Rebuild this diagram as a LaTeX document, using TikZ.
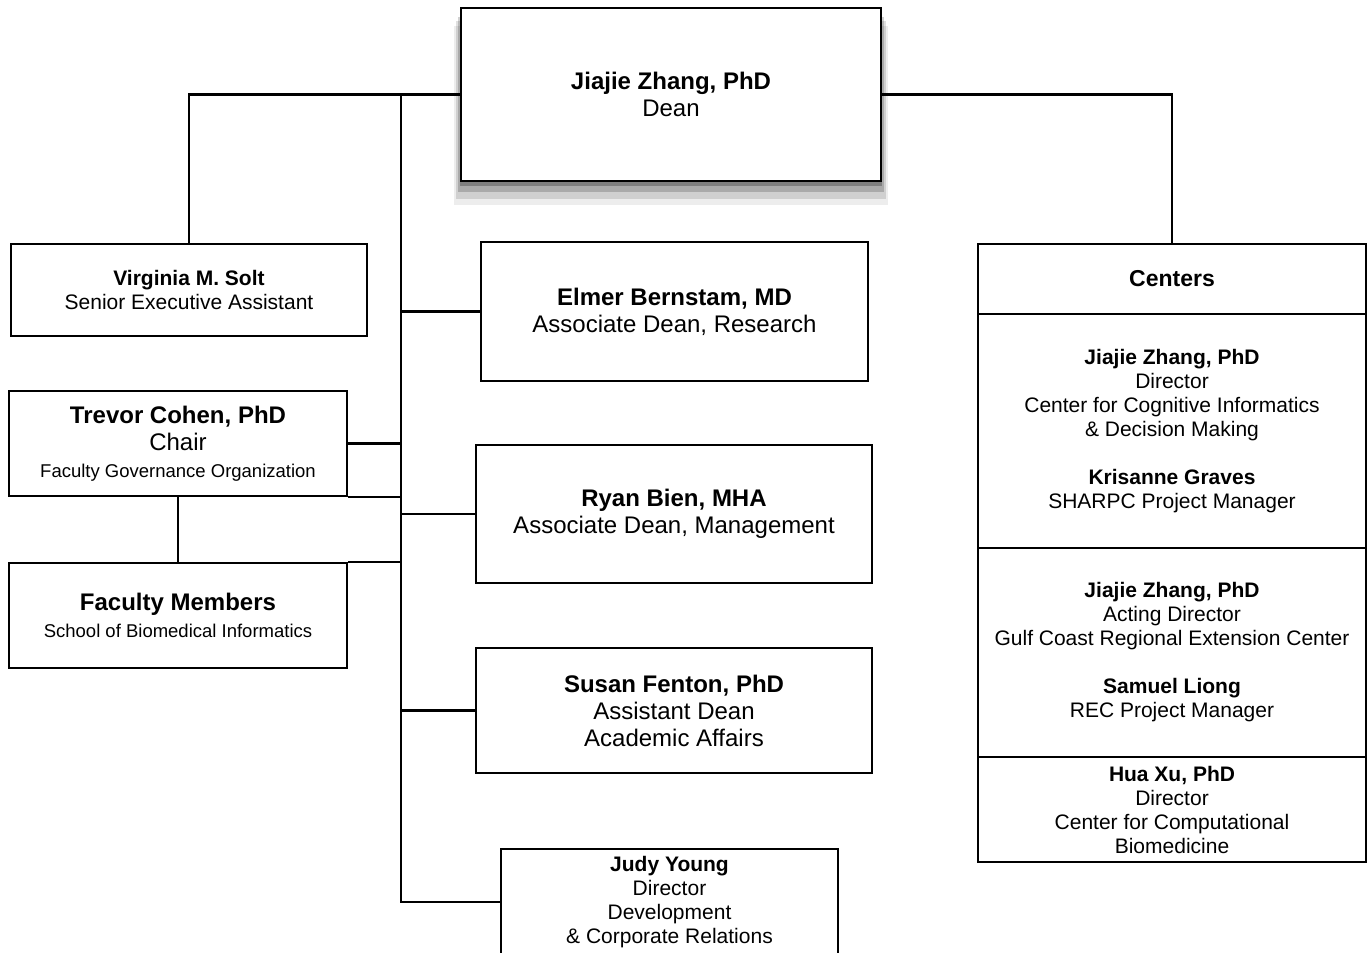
\documentclass[tikz,border=0pt]{standalone}
\usepackage{fontspec}
\setmainfont{Liberation Sans}
\usetikzlibrary{positioning,shadows}
\newcommand{\bigfnt}{\fontsize{12}{13.5}\selectfont}
\newcommand{\midfnt}{\fontsize{10.5}{12}\selectfont}
\newcommand{\smallfnt}{\fontsize{9.25}{12}\selectfont}
\tikzset{
    orgbox/.style={draw, line width=1.2pt, align=center, inner sep=0pt, fill=white},
    link/.style={line width=1.2pt},
    deanshadow/.style={
        drop shadow={fill=black, opacity=0.07, shadow xshift=0pt, shadow yshift=-10pt, shadow scale=1.035},
        drop shadow={fill=black, opacity=0.12, shadow xshift=0pt, shadow yshift=-7.5pt, shadow scale=1.025},
        drop shadow={fill=black, opacity=0.18, shadow xshift=0pt, shadow yshift=-5pt, shadow scale=1.015},
        drop shadow={fill=black, opacity=0.25, shadow xshift=0pt, shadow yshift=-2.5pt, shadow scale=1.005}},
}
\begin{document}
\begin{tikzpicture}[x=0.5pt, y=-0.5pt]
    \useasboundingbox (0, 0) rectangle (1367, 953);
    \node[orgbox, deanshadow, font=\bigfnt, minimum width=210pt, minimum height=86.5pt] (dean) at (671, 94.5)
        {\textbf{Jiajie Zhang, PhD}\\Dean};
    \node[orgbox, font=\midfnt, minimum width=178pt, minimum height=46pt] (solt) at (189, 290)
        {\textbf{Virginia M. Solt}\\Senior Executive Assistant};
    \node[orgbox, font=\bigfnt, minimum width=193.5pt, minimum height=69.5pt] (bernstam) at (674.5, 311.5)
        {\textbf{Elmer Bernstam, MD}\\Associate Dean, Research};
    \node[orgbox, font=\bigfnt, minimum width=169pt, minimum height=52.5pt] (cohen) at (178, 443.5)
        {\textbf{Trevor Cohen, PhD}\\Chair\\{\smallfnt Faculty Governance Organization}};
    \node[orgbox, font=\bigfnt, minimum width=169pt, minimum height=52.5pt] (faculty) at (178, 615.5)
        {\textbf{Faculty Members}\\{\smallfnt School of Biomedical Informatics}};
    \node[orgbox, font=\bigfnt, minimum width=198pt, minimum height=69pt] (bien) at (674, 514)
        {\textbf{Ryan Bien, MHA}\\Associate Dean, Management};
    \node[orgbox, font=\bigfnt, minimum width=198pt, minimum height=62.5pt] (fenton) at (674, 710.5)
        {\textbf{Susan Fenton, PhD}\\Assistant Dean\\Academic Affairs};
    \node[orgbox, font=\midfnt, minimum width=168.5pt, minimum height=53pt] (young) at (669.5, 902)
        {\textbf{Judy Young}\\Director\\Development\\\& Corporate Relations};
    \node[orgbox, font=\fontsize{11.5}{13}\selectfont, minimum width=194pt, minimum height=35pt] (centers) at (1172, 279)
        {\textbf{Centers}};
    \node[orgbox, font=\midfnt, minimum width=194pt, minimum height=117pt, below=-1.2pt of centers] (cogn)
        {\textbf{Jiajie Zhang, PhD}\\Director\\Center for Cognitive Informatics\\\& Decision Making\\[12pt]
        \textbf{Krisanne Graves}\\SHARPC Project Manager};
    \node[orgbox, font=\midfnt, minimum width=194pt, minimum height=104.5pt, below=-1.2pt of cogn] (rec)
        {\textbf{Jiajie Zhang, PhD}\\Acting Director\\Gulf Coast Regional Extension Center\\[12pt]
        \textbf{Samuel Liong}\\REC Project Manager};
    \node[orgbox, font=\midfnt, minimum width=194pt, minimum height=52.5pt, below=-1.2pt of rec] (xu)
        {\textbf{Hua Xu, PhD}\\Director\\Center for Computational\\Biomedicine};
    \coordinate (trunk) at (401, 94.5);
    \draw[link] (dean.west) -| (solt.north);
    \draw[link] (dean.east) -| (centers.north);
    \draw[link] (trunk) |- (young.west);
    \draw[link] (trunk |- bernstam.west) -- (bernstam.west);
    \draw[link] (trunk |- bien.west) -- (bien.west);
    \draw[link] (trunk |- fenton.west) -- (fenton.west);
    \draw[link] (cohen.east) -- (trunk |- cohen.east);
    \draw[link] (cohen.south east) -- (trunk |- cohen.south east);
    \draw[link] (cohen.south) -- (faculty.north);
    \draw[link] (faculty.north east) -- (trunk |- faculty.north east);
\end{tikzpicture}
\end{document}
